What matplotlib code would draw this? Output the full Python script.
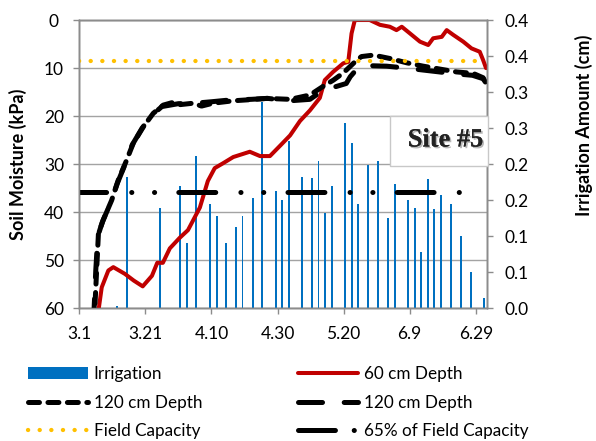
import numpy as np
import matplotlib
matplotlib.use("Agg")
import matplotlib.pyplot as plt
import matplotlib.patheffects as pe
from matplotlib.patches import Rectangle
from matplotlib.lines import Line2D

plt.rcParams['font.family'] = ['Lato', 'DejaVu Sans']
plt.rcParams['lines.scale_dashes'] = False

# days counted from March 1
tick_days = [0, 20, 40, 60, 80, 100, 120]
tick_labels = ['3.1', '3.21', '4.10', '4.30', '5.20', '6.9', '6.29']

irr_days = [11.5, 14.5, 24.5, 30.6, 32.5, 35.4, 39.5, 41.6, 44.5, 47.4, 49.4, 52.5,
            55.4, 59.4, 61.4, 63.4, 67.5, 70.4, 72.4, 74.4, 76.5, 80.5, 82.5, 84.4,
            87.4, 90.5, 93.4, 95.5, 99.5, 101.5, 103.5, 105.5, 107.4, 109.5, 112.5,
            115.5, 118.5, 122.4]
irr_cm = [0.003, 0.183, 0.140, 0.170, 0.091, 0.211, 0.145, 0.128, 0.091, 0.113, 0.128,
          0.153, 0.286, 0.163, 0.150, 0.232, 0.183, 0.181, 0.204, 0.132, 0.170, 0.257,
          0.230, 0.145, 0.199, 0.204, 0.125, 0.173, 0.150, 0.140, 0.079, 0.179, 0.138,
          0.158, 0.145, 0.100, 0.050, 0.015]

d60_days = [5.7, 6.8, 8.8, 10.3, 13.8, 16.5, 19.2, 22.0, 23.6, 25.3, 27.4, 30.4, 32.9,
            36.5, 38.9, 41.0, 43.5, 46.6, 51.6, 54.7, 57.7, 60.7, 63.8, 66.8, 69.8,
            72.8, 74.3, 76.8, 79.9, 81.4, 82.4, 83.4, 87.9, 91.0, 94.0, 96.0, 97.6,
            100.1, 103.1, 105.6, 107.1, 109.7, 111.2, 113.2, 116.2, 118.7, 121.2,
            122.2, 123.1]
d60_kpa = [61, 55.6, 52.1, 51.4, 52.8, 54.2, 55.4, 53.2, 50.5, 50.5, 47.5, 45.3, 43.7,
           39.0, 33.5, 30.8, 29.8, 28.5, 27.4, 28.3, 28.3, 26.2, 24.0, 21.0, 18.8,
           16.2, 12.5, 10.8, 9.0, 8.7, 2.8, 0, 0, 1.0, 1.4, 2.1, 1.4, 2.8, 4.5, 5.2,
           3.8, 3.5, 2.1, 3.1, 4.5, 5.9, 6.6, 8.3, 10]

d120a_days = [4.5, 5.3, 5.8, 7.3, 9.8, 11.8, 14.3, 16.3, 19.4, 22.4, 25.4, 28, 30.5,
              34.5, 37, 40.5, 46.6, 51, 56.7, 63.8, 69.8, 73.8, 76.9, 79.9, 83.9,
              85.4, 89, 94, 99.1, 104.1, 109.1, 114.2, 119.2, 122.2, 123.2]
d120a_kpa = [63, 51.4, 44.4, 41.5, 37.5, 33.3, 29.2, 25.7, 22.2, 19.4, 17.7, 17.2, 17.6,
             17.3, 17.9, 17.3, 16.8, 16.6, 16.3, 16.5, 15.6, 13.8, 12.5, 11.0, 8.4,
             7.6, 7.3, 8.0, 8.9, 9.6, 10.2, 10.8, 11.1, 12.0, 13.2]

d120b_days = [4.3, 5.0, 5.6, 7.0, 9.5, 11.5, 14.0, 16.0, 19.0, 22.0, 25.0, 30.0, 35.0,
              40.0, 46.0, 52.0, 57.0, 63.8, 69.8, 73.8, 77.9, 80.8, 82.0, 84.5, 88.0,
              93.0, 99.0, 104.0, 109.0, 114.0, 119.0, 122.2, 123.2]
d120b_kpa = [63, 52.0, 45.0, 42.0, 38.0, 34.0, 29.8, 26.0, 22.5, 19.8, 18.0, 17.4, 17.3,
             17.0, 16.6, 16.5, 16.3, 16.8, 16.5, 14.6, 13.8, 13.2, 11.8, 9.8, 9.5,
             9.6, 10.0, 10.4, 10.8, 11.2, 11.5, 12.2, 13.2]

ref_days = [0, 121]
field_capacity = 8.6
fc65 = 35.7

grey = '#8c8c8c'

fig = plt.figure(figsize=(5.96, 4.41), dpi=100)
ax = fig.add_axes([0.133, 0.3005, 0.6836, 0.6541])
ax_irr = ax.twinx()
ax_sm = ax.twinx()

# host axis: kPa scale + gridlines
ax.set_xlim(0, 123.3)
ax.set_ylim(60, 0)
ax.set_yticks(range(0, 61, 10))
ax.grid(axis='y', color='#a3a3a3', lw=1.0)
ax.set_xticks(tick_days)
ax.set_xticklabels(tick_labels)
ax.tick_params(axis='x', length=4.3, width=1, color=grey, labelsize=12.5, pad=8.5)
ax.tick_params(axis='y', length=4.3, width=1, color=grey, labelsize=12.5, pad=13.9)
for lab in ax.get_yticklabels():
    lab.set_horizontalalignment('center')
ax.set_ylabel('Soil Moisture (kPa)', fontsize=13, fontweight='bold')
ax.yaxis.set_label_coords(-0.128, 0.5)

# irrigation bars on right axis
ax_irr.bar(irr_days, irr_cm, width=0.6, color='#0070C0', label='Irrigation')
ax_irr.set_ylim(0, 0.4)
ax_irr.set_yticks(np.arange(9) * 0.05)
ax_irr.set_yticklabels(['0.0', '0.1', '0.1', '0.2', '0.2', '0.3', '0.3', '0.4', '0.4'])
ax_irr.tick_params(axis='y', length=4.3, width=1, color=grey, labelsize=12.5, pad=8.6)
ax_irr.set_ylabel('Irrigation Amount (cm)', fontsize=13, fontweight='bold')
ax_irr.yaxis.set_label_coords(1.217, 0.634)

# soil moisture lines
ax_sm.set_ylim(60, 0)
ax_sm.set_yticks([])
ax_sm.set_xlim(0, 123.3)
l60, = ax_sm.plot(d60_days, d60_kpa, color='#C00000', lw=2.9,
                  solid_joinstyle='round', solid_capstyle='round', label='60 cm Depth')
la, = ax_sm.plot(d120a_days, d120a_kpa, color='black', lw=3.6,
                 linestyle=(0, (7.9, 6.1)), dash_capstyle='round', dash_joinstyle='round',
                 label='120 cm Depth')
lb, = ax_sm.plot(d120b_days, d120b_kpa, color='black', lw=3.6,
                 linestyle=(0, (17.3, 15.6)), dash_capstyle='round', dash_joinstyle='round',
                 label='120 cm Depth')
lfc, = ax_sm.plot(ref_days, [field_capacity] * 2, color='#FFC000', lw=3.1,
                  linestyle=(0, (0.1, 8.28)), dash_capstyle='round', label='Field Capacity')
l65, = ax_sm.plot(ref_days, [fc65] * 2, color='black', lw=3.6,
                  linestyle=(7.1, (26.6, 18.1, 0.1, 16.3, 0.1, 17.4)),
                  dash_capstyle='round', label='65% of Field Capacity')
# legend sample for the dash-dot line starts on a full dash
l65_key = Line2D([], [], color='black', lw=3.6,
                 linestyle=(0, (26.6, 13.5, 0.1, 30)), dash_capstyle='round')

for a in (ax, ax_irr, ax_sm):
    for s in a.spines.values():
        s.set_color(grey)
        s.set_linewidth(1)

# site label box
ax_sm.add_patch(Rectangle((0.763, 0.494), 0.24, 0.173, transform=ax_sm.transAxes,
                          facecolor='white', edgecolor='#c8c8c8', lw=1, clip_on=False,
                          zorder=5))
ax_sm.text(0.899, 0.584, 'Site #5', transform=ax_sm.transAxes, ha='center', va='center',
           family='Liberation Serif', fontweight='bold', fontsize=19, color='#222222',
           zorder=6,
           path_effects=[pe.withSimplePatchShadow(offset=(1.2, -1.2), shadow_rgbFace='#888888',
                                                  alpha=0.6), pe.Normal()])

bars = ax_irr.containers[0]
leg1 = fig.legend([bars, la, lfc], ['Irrigation', '120 cm Depth', 'Field Capacity'],
                  loc='upper left', bbox_to_anchor=(28 / 596, 1 - 366 / 441),
                  frameon=False, fontsize=12.3, handlelength=3.5, handletextpad=0.35,
                  borderpad=0, borderaxespad=0, labelspacing=0.74)
leg2 = fig.legend([l60, lb, l65_key], ['60 cm Depth', '120 cm Depth', '65% of Field Capacity'],
                  loc='upper left', bbox_to_anchor=(298 / 596, 1 - 366 / 441),
                  frameon=False, fontsize=12.3, handlelength=3.5, handletextpad=0.35,
                  borderpad=0, borderaxespad=0, labelspacing=0.74)

fig.savefig('out.png', dpi=100)
